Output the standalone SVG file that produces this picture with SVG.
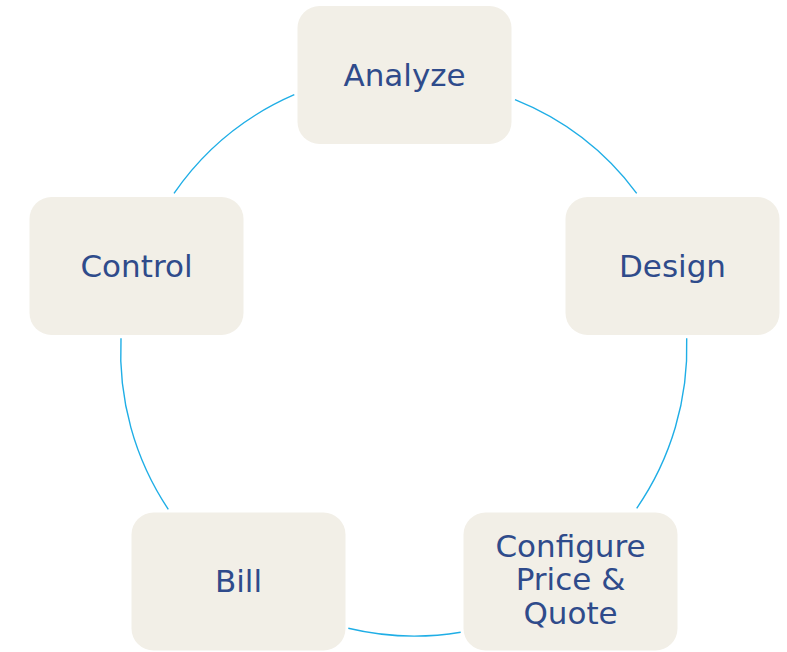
<svg xmlns="http://www.w3.org/2000/svg" width="787" height="652" viewBox="0 0 787 652">
  <style>
    .box { fill: #F2EFE7; }
    .lbl { font-family: "DejaVu Sans", "Liberation Sans", sans-serif; font-size: 31px; fill: #2F4B8B; text-anchor: middle; }
    .arc { fill: none; stroke: #1FAEE6; stroke-width: 1.4; }
  </style>
  <rect width="787" height="652" fill="#FFFFFF"/>
  <g id="connectors">
    <path class="arc" d="M515,99.7 A283,283 0 0 1 636.7,193.3"/>
    <path class="arc" d="M686.7,338.3 A283,283 0 0 1 636.7,508.3"/>
    <path class="arc" d="M460.7,632.3 A283,283 0 0 1 348.3,628.3"/>
    <path class="arc" d="M168.3,509.3 A283,283 0 0 1 121,338.3"/>
    <path class="arc" d="M174,193.3 A283,283 0 0 1 294.3,94.7"/>
  </g>
  <g id="analyze">
    <rect class="box" x="297.5" y="6" width="214" height="138" rx="22"/>
    <text class="lbl" x="404.5" y="86">Analyze</text>
  </g>
  <g id="design">
    <rect class="box" x="565.5" y="197" width="214" height="138" rx="22"/>
    <text class="lbl" x="672.5" y="277">Design</text>
  </g>
  <g id="cpq">
    <rect class="box" x="463.5" y="512.5" width="214" height="138" rx="22"/>
    <text class="lbl" x="570.5" y="556.5">Configure</text>
    <text class="lbl" x="570.5" y="590">Price &amp;</text>
    <text class="lbl" x="570.5" y="624">Quote</text>
  </g>
  <g id="bill">
    <rect class="box" x="131.5" y="512.5" width="214" height="138" rx="22"/>
    <text class="lbl" x="238.5" y="592">Bill</text>
  </g>
  <g id="control">
    <rect class="box" x="29.5" y="197" width="214" height="138" rx="22"/>
    <text class="lbl" x="136.5" y="277">Control</text>
  </g>
</svg>
